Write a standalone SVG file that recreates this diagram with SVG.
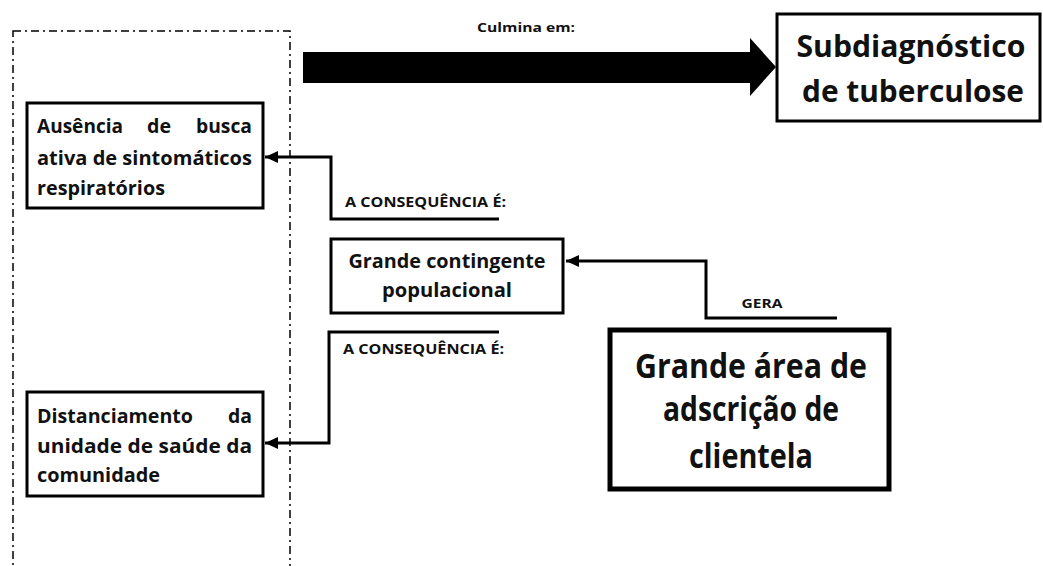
<svg xmlns="http://www.w3.org/2000/svg" width="1043" height="566" viewBox="0 0 1043 566">
<defs>
<style>
.t{font-family:"Open Sans",Lato,"Liberation Sans",sans-serif;font-weight:bold;fill:#111}
.box{fill:#fff;stroke:#000;stroke-width:3}
.con{fill:none;stroke:#000;stroke-width:3}
</style>
<marker id="ah" markerUnits="userSpaceOnUse" markerWidth="14" markerHeight="14" viewBox="0 0 14 14" refX="13" refY="7" orient="auto">
<path d="M0,1 L13,7 L0,13 Z" fill="#000"/>
</marker>
</defs>
<rect width="1043" height="566" fill="#fff"/>
<g id="container">
<rect x="13" y="31" width="277" height="545" fill="none" stroke="#000" stroke-width="1.5" stroke-dasharray="8,4,2,4"/>
</g>
<g id="connectors">
<polygon points="303,52 750,52 750,38 776,67 750,96 750,83 303,83" fill="#000"/>
<path class="con" d="M499,219 H331 V157 H265" marker-end="url(#ah)"/>
<path class="con" d="M499,332 H329 V443 H265" marker-end="url(#ah)"/>
<path class="con" d="M837,318 H706 V261 H566" marker-end="url(#ah)"/>
<text class="t" x="526" y="32" font-size="13" text-anchor="middle" textLength="98" lengthAdjust="spacingAndGlyphs">Culmina em:</text>
<text class="t" x="345" y="207" font-size="15" textLength="161" lengthAdjust="spacingAndGlyphs">A CONSEQUÊNCIA É:</text>
<text class="t" x="343" y="354" font-size="15" textLength="161" lengthAdjust="spacingAndGlyphs">A CONSEQUÊNCIA É:</text>
<text class="t" x="762" y="308" font-size="13" text-anchor="middle" textLength="41" lengthAdjust="spacingAndGlyphs">GERA</text>
</g>
<g id="node-subdiagnostico">
<rect class="box" x="777" y="14" width="263" height="107"/>
<text class="t" x="911" y="57" font-size="31" text-anchor="middle" textLength="229" lengthAdjust="spacingAndGlyphs">Subdiagnóstico</text>
<text class="t" x="913" y="102" font-size="31" text-anchor="middle" textLength="222" lengthAdjust="spacingAndGlyphs">de tuberculose</text>
</g>
<g id="node-ausencia">
<rect class="box" x="27" y="103" width="236" height="105"/>
<text class="t" x="37" y="133" font-size="20" textLength="86" lengthAdjust="spacingAndGlyphs">Ausência</text>
<text class="t" x="147" y="133" font-size="20" textLength="24" lengthAdjust="spacingAndGlyphs">de</text>
<text class="t" x="196" y="133" font-size="20" textLength="56" lengthAdjust="spacingAndGlyphs">busca</text>
<text class="t" x="37" y="165" font-size="20" textLength="215" lengthAdjust="spacingAndGlyphs">ativa de sintomáticos</text>
<text class="t" x="37" y="195" font-size="20" textLength="128" lengthAdjust="spacingAndGlyphs">respiratórios</text>
</g>
<g id="node-contingente">
<rect class="box" x="331" y="239" width="232" height="74"/>
<text class="t" x="447" y="268" font-size="20" text-anchor="middle" textLength="197" lengthAdjust="spacingAndGlyphs">Grande contingente</text>
<text class="t" x="447" y="297" font-size="20" text-anchor="middle" textLength="130" lengthAdjust="spacingAndGlyphs">populacional</text>
</g>
<g id="node-distanciamento">
<rect class="box" x="27" y="392" width="236" height="104"/>
<text class="t" x="37" y="423" font-size="20" textLength="156" lengthAdjust="spacingAndGlyphs">Distanciamento</text>
<text class="t" x="228" y="423" font-size="20" textLength="24" lengthAdjust="spacingAndGlyphs">da</text>
<text class="t" x="37" y="453" font-size="20" textLength="215" lengthAdjust="spacingAndGlyphs">unidade de saúde da</text>
<text class="t" x="37" y="482" font-size="20" textLength="123" lengthAdjust="spacingAndGlyphs">comunidade</text>
</g>
<g id="node-grande-area">
<rect x="610" y="330" width="279" height="159" fill="#fff" stroke="#000" stroke-width="5"/>
<text class="t" x="751" y="378" font-size="34" text-anchor="middle" textLength="232" lengthAdjust="spacingAndGlyphs">Grande área de</text>
<text class="t" x="751" y="421" font-size="34" text-anchor="middle" textLength="176" lengthAdjust="spacingAndGlyphs">adscrição de</text>
<text class="t" x="751" y="468" font-size="34" text-anchor="middle" textLength="124" lengthAdjust="spacingAndGlyphs">clientela</text>
</g>
</svg>
